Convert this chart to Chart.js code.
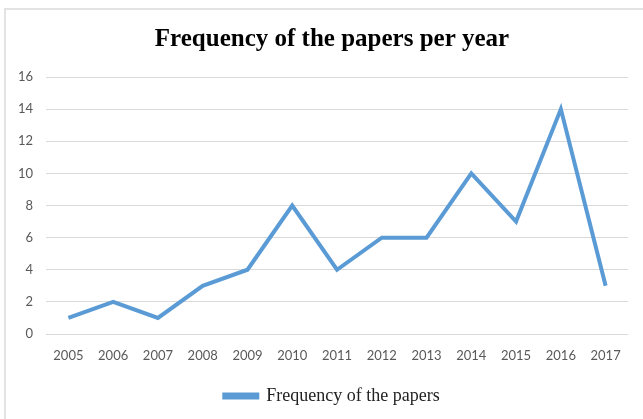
<!DOCTYPE html>
<html>
<head>
<meta charset="utf-8">
<script src="https://cdn.jsdelivr.net/npm/chart.js@4.4.0/dist/chart.umd.min.js"></script>
<style>
  html, body { margin: 0; padding: 0; background: #fff; overflow: hidden; }
  #wrap { position: relative; width: 643px; height: 419px; overflow: hidden; }
  #frame {
    position: absolute; left: 4px; top: 8px; width: 660px; height: 440px;
    border: 2px solid #e3e3e3; box-sizing: border-box;
  }
  canvas { position: absolute; left: 0; top: 0; }
</style>
</head>
<body>
<div id="wrap">
  <div id="frame"></div>
  <canvas id="freqChart" width="643" height="419"></canvas>
</div>
<script>
const years = ['2005', '2006', '2007', '2008', '2009', '2010', '2011', '2012', '2013', '2014', '2015', '2016', '2017'];
const paperCounts = [1, 2, 1, 3, 4, 8, 4, 6, 6, 10, 7, 14, 3];
const yTicks = [0, 2, 4, 6, 8, 10, 12, 14, 16];

const lineBlue = '#5b9bd5';
const tickFont = { family: 'Lato, "Open Sans", sans-serif', size: 13 };
const serif = '"Liberation Serif", "Times New Roman", serif';

// title and legend sit centred over the plot area rather than the whole canvas
const centreOverPlot = {
    id: 'centreOverPlot',
    afterLayout(chart) {
        const shift = 13;
        [chart.titleBlock, chart.legend].forEach(box => {
            if (box) { box.left += shift; box.right += shift; }
        });
    }
};

const ctx = document.getElementById('freqChart').getContext('2d');
new Chart(ctx, {
    type: 'line',
    data: {
        labels: years,
        datasets: [{
            label: 'Frequency of the papers',
            data: paperCounts,
            borderColor: lineBlue,
            backgroundColor: lineBlue,
            borderWidth: 4,
            pointRadius: 0,
            tension: 0,
            borderJoinStyle: 'miter'
        }]
    },
    options: {
        responsive: false,
        animation: false,
        layout: { padding: { left: 10, right: 15, top: 0, bottom: 4 } },
        plugins: {
            title: {
                display: true,
                text: 'Frequency of the papers per year',
                color: '#000',
                font: { family: serif, size: 25, weight: 'bold' },
                padding: { top: 25, bottom: 22 }
            },
            legend: {
                position: 'bottom',
                labels: {
                    color: '#222',
                    boxWidth: 33,
                    boxHeight: 3,
                    padding: 6,
                    font: { family: serif, size: 18 }
                }
            },
            tooltip: { enabled: false }
        },
        scales: {
            x: {
                offset: true,
                grid: { display: false },
                border: { display: false },
                ticks: { color: '#595959', font: tickFont, padding: 6, maxRotation: 0 },
                afterFit: (scale) => { scale.height = 47; }
            },
            y: {
                min: 0,
                max: 16,
                afterBuildTicks: (scale) => { scale.ticks = yTicks.map(v => ({ value: v })); },
                grid: { color: '#d9d9d9', lineWidth: 1, drawTicks: false },
                border: { display: false },
                ticks: { color: '#595959', font: tickFont, padding: 13 },
                afterFit: (scale) => { scale.width = 36; }
            }
        }
    },
    plugins: [centreOverPlot]
});
</script>
</body>
</html>
